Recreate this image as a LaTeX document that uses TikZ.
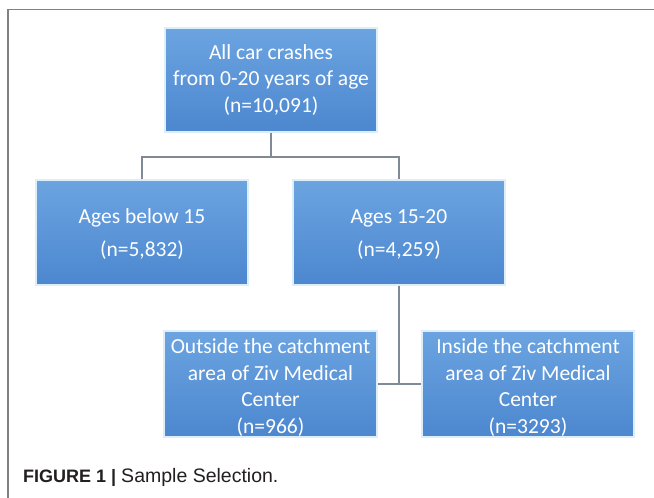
\documentclass[tikz,border=0pt]{standalone}
\usepackage{fontspec}
\setmainfont{Carlito}
\newfontfamily\capfont{Liberation Sans}
\begin{document}
\begin{tikzpicture}[x=1pt,y=-1pt,
  box/.style={minimum width=212pt,minimum height=104pt,inner sep=0pt,
    top color=boxtop,bottom color=boxbot,draw=glow,line width=1.2pt,
    text=white,align=center,font=\fontsize{21.5}{26.5}\selectfont},
  conn/.style={draw=connc,line width=1.1pt}]
\definecolor{boxtop}{HTML}{6CA4E1}
\definecolor{boxbot}{HTML}{4C87CF}
\definecolor{glow}{HTML}{DCEEF9}
\definecolor{connc}{HTML}{7F8A96}
\definecolor{framec}{HTML}{808080}
\definecolor{capc}{HTML}{231F20}
\useasboundingbox (0,0) rectangle (654,498);
\fill[white] (0,0) rectangle (654,498);
\coordinate (f1) at (8,498);
\coordinate (f2) at (8,9.5);
\coordinate (f3) at (654,9.5);
\draw[framec,line width=1.6pt] (f1) -- (f2) -- (f3);
\node[box] (top) at (271,80) {All car crashes\\from 0-20 years of age\\(n=10,091)};
\node[box,minimum height=105pt] (left) at (142,232.5) {\rule{0pt}{18pt}Ages below 15\\[6pt](n=5,832)};
\node[box,minimum height=105pt] (mid) at (399,232.5) {\rule{0pt}{18pt}Ages 15-20\\[6pt](n=4,259)};
\node[box,minimum width=213pt,minimum height=106pt] (bl) at (270.5,384) {\rule{0pt}{22pt}Outside the catchment\\area of Ziv Medical\\Center\\(n=966)};
\node[box,minimum width=212pt,minimum height=106pt] (br) at (528,384) {\rule{0pt}{22pt}Inside the catchment\\area of Ziv Medical\\Center\\(n=3293)};
\coordinate (j1) at (271,157);
\draw[conn] (top.south) -- (j1);
\draw[conn] (left.north) |- (j1) -| (mid.north);
\coordinate (j2) at (mid.south |- bl.east);
\draw[conn] (mid.south) -- (j2);
\draw[conn] (bl.east) -- (br.west);
\node[anchor=base west,inner sep=0pt,text=capc,font=\capfont] (cap) at (23,482)
  {{\fontsize{18}{20}\selectfont\bfseries FIGURE 1 |}\hspace{5pt}{\fontsize{19.5}{22}\selectfont Sample Selection.}};
\end{tikzpicture}
\end{document}
